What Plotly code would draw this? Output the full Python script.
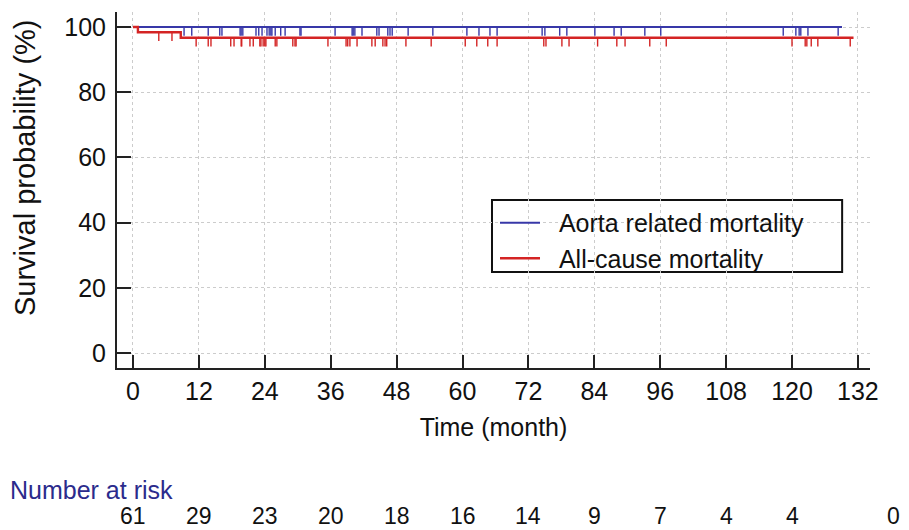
import plotly.graph_objects as go
import numpy as np

# ---- data ----
# Kaplan-Meier step curves (time in months, survival in %)
aorta_step_t = [0, 129.1]
aorta_step_s = [100, 100]
allcause_step_t = [0, 0.9, 8.7, 131.2]
allcause_step_s = [100, 98.4, 96.7, 96.7]

# censoring times (months)
aorta_censor = [9.3, 10.7, 13.7, 15.8, 16.2, 19.5, 19.7, 20.0, 22.4, 22.9, 23.5, 24.4,
                24.8, 25.1, 25.3, 25.9, 26.9, 27.7, 30.4, 30.6, 36.8, 39.9, 40.1, 40.4,
                41.7, 44.4, 44.8, 46.4, 46.8, 47.2, 50.1, 54.6, 60.8, 63.0, 65.0, 66.3,
                74.5, 75.0, 77.7, 79.0, 84.1, 87.6, 88.9, 93.2, 96.1, 118.4, 120.7,
                121.3, 121.6, 122.9, 128.4]
allcause_censor = [4.7, 7.1, 11.5, 13.7, 14.2, 17.8, 18.4, 19.7, 19.8, 21.3, 21.9, 23.1,
                   23.3, 23.7, 24.0, 24.2, 25.9, 26.2, 29.1, 29.5, 29.7, 35.5, 38.8, 39.1,
                   39.5, 40.8, 43.5, 44.1, 45.5, 45.9, 46.2, 49.7, 54.3, 60.5, 62.6, 64.6,
                   66.3, 74.8, 75.2, 78.1, 79.4, 84.6, 88.1, 89.6, 94.1, 97.1, 120.0,
                   122.4, 122.7, 123.5, 124.7, 130.6]

risk_times = [0, 12, 24, 36, 48, 60, 72, 84, 96, 108, 120, 132]
risk_n = [61, 29, 23, 20, 18, 16, 14, 9, 7, 4, 4, 0]

x_ticks = [0, 12, 24, 36, 48, 60, 72, 84, 96, 108, 120, 132]
y_ticks = [0, 20, 40, 60, 80, 100]

BLUE = "#3838a8"
RED = "#d42424"
FONT = "Liberation Sans, Arial, sans-serif"
NB = "\u00a0\u00a0"


def surv_at(times, step_t, step_s):
    idx = np.searchsorted(step_t, times, side="right") - 1
    return [step_s[i] for i in idx]


fig = go.Figure()

# censor marks as downward ticks (error bars)
for cens, st, ss, col in [(aorta_censor, aorta_step_t, aorta_step_s, BLUE),
                          (allcause_censor, allcause_step_t, allcause_step_s, RED)]:
    fig.add_trace(go.Scatter(
        x=cens, y=surv_at(cens, st, ss), mode="markers",
        marker=dict(size=1, color="rgba(0,0,0,0)"),
        error_y=dict(type="constant", symmetric=False, value=0, valueminus=2.7,
                     width=0, thickness=1.4, color=col),
        showlegend=False, hoverinfo="skip"))

fig.add_trace(go.Scatter(x=aorta_step_t, y=aorta_step_s, mode="lines",
                         line=dict(color=BLUE, width=2, shape="hv"),
                         name=NB + "Aorta related mortality"))
fig.add_trace(go.Scatter(x=allcause_step_t, y=allcause_step_s, mode="lines",
                         line=dict(color=RED, width=2.4, shape="hv"),
                         name=NB + "All-cause mortality"))

annotations = [
    dict(text="Number at risk", xref="paper", yref="paper", x=-0.1448, y=-0.343,
         xanchor="left", yanchor="middle", showarrow=False,
         font=dict(size=25, color="#2b2b8c", family=FONT)),
    dict(text="Survival probability (%)", xref="paper", yref="paper", x=-0.122, y=0.562,
         xanchor="center", yanchor="middle", textangle=-90, showarrow=False,
         font=dict(size=29, color="#111111", family=FONT)),
]
for i, (t, n) in enumerate(zip(risk_times, risk_n)):
    annotations.append(dict(text=str(n), xref="x", yref="paper", x=t, y=-0.416,
                            xanchor="center", yanchor="middle", showarrow=False,
                            xshift=36 if i == len(risk_times) - 1 else 0,
                            font=dict(size=23, color="#111111", family=FONT)))

fig.update_layout(
    width=893, height=522,
    margin=dict(l=109, r=31, t=4, b=162, autoexpand=False),
    paper_bgcolor="white", plot_bgcolor="white",
    font=dict(family=FONT, size=25, color="#111111"),
    showlegend=True,
    legend=dict(x=0.502, y=0.472, xanchor="left", yanchor="top",
                borderwidth=0, bgcolor="rgba(0,0,0,0)",
                font=dict(size=25, family=FONT, color="#111111"),
                tracegroupgap=0, itemwidth=40),
    annotations=annotations,
    shapes=[dict(type="rect", xref="paper", yref="paper", x0=0.498, x1=0.963,
                 y0=0.270, y1=0.472, line=dict(color="#111111", width=2),
                 fillcolor="white", layer="below")],
)

fig.update_xaxes(range=[-2.91, 134.2], tickvals=x_ticks, ticks="inside", ticklen=13,
                 tickwidth=2, tickcolor="#222222", showline=True, linewidth=2,
                 linecolor="#222222", showgrid=True, gridcolor="#cccccc", griddash="dot",
                 gridwidth=1, zeroline=False, automargin=False,
                 title=dict(text="Time (month)", standoff=14, font=dict(size=25)),
                 tickfont=dict(size=25))
fig.update_yaxes(range=[-4.6, 104.6], tickvals=y_ticks, ticks="inside", ticklen=14,
                 tickwidth=2, tickcolor="#222222", showline=True, linewidth=2,
                 linecolor="#222222", showgrid=True, gridcolor="#cccccc", griddash="dot",
                 gridwidth=1, zeroline=False, automargin=False,
                 tickfont=dict(size=25), ticklabelstandoff=4)

fig.write_html("out.html")
